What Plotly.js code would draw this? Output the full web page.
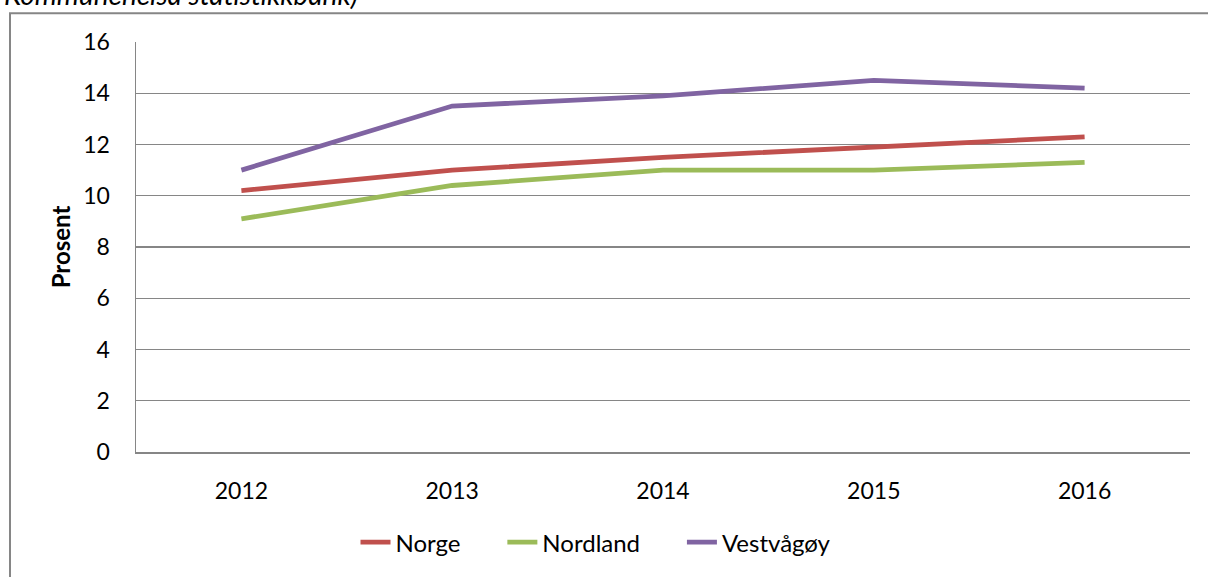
<!DOCTYPE html>
<html>
<head>
<meta charset="utf-8">
<script src="https://cdn.plot.ly/plotly-3.0.1.min.js"></script>
<style>html,body{margin:0;padding:0;background:#fff;}#chart{width:1208px;height:577px;}</style>
</head>
<body>
<div id="chart"></div>
<script>
const years = ['2012', '2013', '2014', '2015', '2016'];
const norge = [10.2, 11.0, 11.5, 11.9, 12.3];
const nordland = [9.1, 10.4, 11.0, 11.0, 11.3];
const vestvagoy = [11.0, 13.5, 13.9, 14.5, 14.2];
const yTicks = [0, 2, 4, 6, 8, 10, 12, 14, 16];
const seriesNames = ['Norge', 'Nordland', 'Vestvågøy'];

const FONT = 'Lato, "Open Sans", sans-serif';
const PAD = '\u00a0\u00a0\u00a0\u00a0\u00a0\u00a0';
function tr(name, y, color) {
  return {x: years, y: y, name: name, type: 'scatter', mode: 'lines',
    line: {color: color, width: 4.8}, hoverinfo: 'skip'};
}
const data = [
  tr(seriesNames[0] + PAD, norge, '#C0504D'),
  tr(seriesNames[1] + PAD, nordland, '#9BBB59'),
  tr(seriesNames[2], vestvagoy, '#8064A2')
];
const layout = {
  width: 1208, height: 577,
  margin: {l: 136, r: 18, t: 42, b: 123},
  paper_bgcolor: '#fff', plot_bgcolor: '#fff',
  font: {family: FONT, size: 23, color: '#000'},
  showlegend: true,
  legend: {orientation: 'h', x: (596 - 136) / 1054, xanchor: 'center', y: -0.221, yanchor: 'middle',
    font: {family: FONT, size: 24, color: '#000'}, itemwidth: 30, tracegroupgap: 0},
  xaxis: {type: 'category', range: [-0.5, 4.5], showgrid: false, zeroline: false,
    showline: true, linecolor: '#868686', linewidth: 1.5,
    ticks: 'outside', ticklen: 18, tickcolor: 'rgba(0,0,0,0)',
    tickfont: {family: FONT, size: 23, color: '#000'}, fixedrange: true},
  yaxis: {range: [0, 16], tickvals: yTicks, showgrid: true, gridcolor: '#868686', gridwidth: 1.3,
    zeroline: false, showline: true, linecolor: '#868686', linewidth: 1.5,
    ticks: 'outside', ticklen: 20, tickcolor: 'rgba(0,0,0,0)',
    tickfont: {family: FONT, size: 23, color: '#000'},
    title: {text: '<b>Prosent</b>', font: {family: FONT, size: 24, color: '#000'}, standoff: 6},
    fixedrange: true},
  shapes: [{type: 'rect', xref: 'paper', yref: 'paper',
    x0: (10 - 136) / 1054, x1: 1.2, y0: -0.5, y1: (454 - 13) / 412,
    line: {color: '#868686', width: 2}, fillcolor: 'rgba(0,0,0,0)', layer: 'below'}],
  annotations: [{xref: 'paper', yref: 'paper', x: (2 - 136) / 1054, xanchor: 'left',
    y: (454 - 13) / 412, yanchor: 'bottom', showarrow: false,
    text: '<i>Kommunehelsa statistikkbank)</i>', font: {family: FONT, size: 28, color: '#000'}}]
};
Plotly.newPlot('chart', data, layout, {staticPlot: true, displayModeBar: false});
</script>
</body>
</html>
